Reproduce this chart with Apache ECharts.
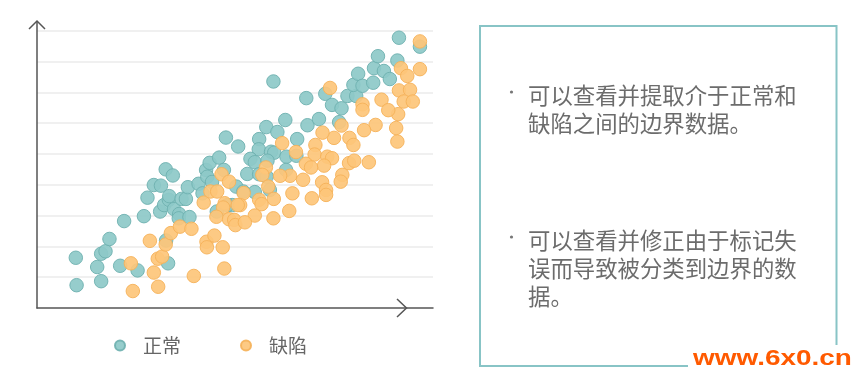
<!DOCTYPE html>
<html>
<head>
<meta charset="utf-8">
<script src="https://cdn.jsdelivr.net/npm/echarts@6/dist/echarts.min.js"></script>
<style>
html,body{margin:0;padding:0;background:#fff;}
#c{width:866px;height:381px;}
</style>
</head>
<body>
<div id="c"></div>
<script>
// Legend / series names
var seriesNames = ['正常', '缺陷'];

// 正常 (normal) points: [x, y]
var normalData = [
  [9.8,1.63],[10.0,0.74],[15.2,1.33],[16.2,0.87],[16.2,1.76],[17.3,1.84],[18.3,2.24],[21.0,1.37],
  [22.0,2.82],[25.4,1.22],[27.0,2.98],[27.9,3.58],[29.5,3.99],[31.3,3.97],[32.5,4.50],[34.3,4.30],
  [31.1,3.13],[32.1,3.34],[33.3,3.51],[33.4,3.63],[34.6,3.21],[35.9,3.05],[35.8,2.91],[36.5,3.54],
  [37.6,3.54],[38.1,3.92],[38.5,2.95],[32.6,2.19],[33.1,1.45],[40.8,4.03],[41.8,3.72],[42.7,4.48],
  [43.0,4.26],[43.6,4.71],[44.2,4.09],[46.0,4.88],[47.2,4.48],[47.7,5.53],[50.8,5.24],[50.3,3.94],
  [45.4,3.13],[49.3,3.34],[59.7,7.35],[68.0,6.81],[72.8,6.95],[74.5,6.59],[76.9,6.48],[78.4,6.88],
  [80.6,6.88],[79.9,7.24],[81.1,7.60],[82.2,7.21],[84.9,7.31],[85.1,7.78],[86.1,8.17],[87.6,7.69],
  [89.1,7.43],[91.0,8.03],[91.4,8.77],[96.7,8.48],[62.7,6.10],[68.3,5.93],[71.2,6.13],[76.3,6.03],
  [57.9,5.87],[60.7,5.71],[56.1,5.48],[65.7,5.48],[56.0,5.15],[59.1,5.07],[59.9,5.04],[63.0,4.91],
  [65.5,4.94],[53.9,4.84],[55.0,4.73],[58.2,4.78],[62.9,4.48],[53.1,4.35],[56.1,4.34],[58.0,4.26],
  [55.0,3.76],[58.8,3.83],[52.1,3.78],[48.1,3.34]
];

// 缺陷 (defect) points: [x, y]
var defectData = [
  [24.2,0.55],[23.7,1.45],[29.5,1.15],[30.6,0.69],[28.5,2.18],[30.5,1.60],[31.6,1.67],[32.5,2.06],
  [33.8,2.43],[36.1,2.64],[39.0,2.57],[39.6,1.04],[42.8,2.15],[42.9,1.97],[44.8,2.35],[46.9,1.97],
  [47.3,1.28],[42.1,3.42],[43.8,3.78],[45.5,3.78],[46.6,4.34],[48.5,4.10],[47.4,3.40],[47.0,3.26],
  [45.3,2.96],[48.5,2.88],[49.8,2.86],[50.1,2.69],[96.7,8.65],[91.9,7.78],[93.5,7.53],[96.7,7.75],
  [91.4,7.06],[94.2,7.08],[92.6,6.70],[94.9,6.70],[91.2,6.29],[90.7,5.84],[91.0,5.40],[87.0,6.76],
  [88.7,6.42],[82.2,6.61],[82.2,6.43],[74.0,7.14],[85.5,5.94],[82.6,5.77],[76.9,5.92],[75.0,5.52],
  [78.9,5.52],[79.9,5.29],[72.1,5.69],[70.3,5.29],[70.1,4.98],[73.3,4.91],[74.5,4.86],[72.5,4.62],
  [78.8,4.70],[80.1,4.78],[83.8,4.73],[67.9,4.68],[69.2,4.56],[77.1,4.32],[76.7,4.10],[72.0,4.08],
  [73.0,3.83],[73.0,3.67],[67.2,4.16],[63.9,4.29],[61.4,4.29],[61.9,5.35],[65.4,5.06],[57.8,4.56],
  [56.9,4.32],[58.4,3.94],[64.5,3.72],[59.8,3.54],[69.4,3.56],[63.7,3.15],[59.7,2.91],[56.1,3.51],
  [56.7,3.37],[55.0,3.00],[52.2,3.73],[51.3,3.34],[50.7,3.34],[52.5,2.78]
];

// Side panel text
var note1 = '可以查看并提取介于正常和\n缺陷之间的边界数据。';
var note2 = '可以查看并修正由于标记失\n误而导致被分类到边界的数\n据。';
var watermark = 'www.6x0.cn';

var chart = echarts.init(document.getElementById('c'), null, {renderer: 'canvas'});
var axisColor = '#555';
var cjk = '"Noto Sans CJK SC", "Noto Sans", sans-serif';

chart.setOption({
  backgroundColor: '#ffffff',
  animation: false,
  grid: {left: 37, right: 433, top: 22, bottom: 73, containLabel: false},
  xAxis: {
    type: 'value', min: 0, max: 100, interval: 10,
    axisLine: {show: true, lineStyle: {color: axisColor, width: 1.5}},
    axisTick: {show: false}, axisLabel: {show: false}, splitLine: {show: false}
  },
  yAxis: {
    type: 'value', min: 0, max: 9.28, interval: 1,
    axisLine: {show: true, lineStyle: {color: axisColor, width: 1.5}},
    axisTick: {show: false}, axisLabel: {show: false},
    splitLine: {show: true, showMinLine: false, showMaxLine: false, lineStyle: {color: '#ebebeb', width: 1.5}}
  },
  legend: {
    data: seriesNames,
    left: 109, top: 331,
    icon: 'circle', itemWidth: 10, itemHeight: 10, itemGap: 59,
    textStyle: {fontFamily: cjk, fontSize: 19, color: '#666', padding: [0, 0, 0, 13]}
  },
  series: [
    {
      name: seriesNames[0], type: 'scatter', data: normalData, symbolSize: 13.5,
      itemStyle: {color: '#8dc9c8', borderColor: '#6fb1b0', borderWidth: 1, opacity: 0.92}
    },
    {
      name: seriesNames[1], type: 'scatter', data: defectData, symbolSize: 13.5,
      itemStyle: {color: '#fdc67a', borderColor: '#f5b25a', borderWidth: 1, opacity: 0.92}
    }
  ],
  graphic: [
    // axis arrow heads (chevrons)
    {type: 'polyline', shape: {points: [[29, 29], [37, 21], [45, 29]]},
     style: {stroke: axisColor, lineWidth: 1.5, fill: null}, z: 10},
    {type: 'polyline', shape: {points: [[397, 299], [406.5, 308], [397, 317]]},
     style: {stroke: axisColor, lineWidth: 1.5, fill: null}, z: 10},
    // side panel
    {type: 'rect', shape: {x: 480, y: 26, width: 356.5, height: 340},
     style: {stroke: '#88c4c6', lineWidth: 2, fill: null}},
    {type: 'circle', shape: {cx: 511.5, cy: 92, r: 1.6}, style: {fill: '#777'}},
    {type: 'circle', shape: {cx: 511.5, cy: 237, r: 1.6}, style: {fill: '#777'}},
    {type: 'text', x: 528, y: 81,
     style: {text: note1, font: '22.4px ' + cjk, lineHeight: 28, fill: '#6c6c6c', verticalAlign: 'top', align: 'left'}},
    {type: 'text', x: 528, y: 226,
     style: {text: note2, font: '22.4px ' + cjk, lineHeight: 28, fill: '#6c6c6c', verticalAlign: 'top', align: 'left'}},
    // watermark
    {type: 'rect', shape: {x: 688, y: 345, width: 178, height: 36}, style: {fill: '#ffffff'}, z: 20},
    {type: 'text', x: 693, y: 359, scaleX: 1.27, z: 21,
     style: {text: watermark, font: 'bold 22px "Liberation Sans", Arial, sans-serif', fill: '#ff5a00',
             verticalAlign: 'middle', align: 'left'}}
  ]
});
</script>
</body>
</html>
